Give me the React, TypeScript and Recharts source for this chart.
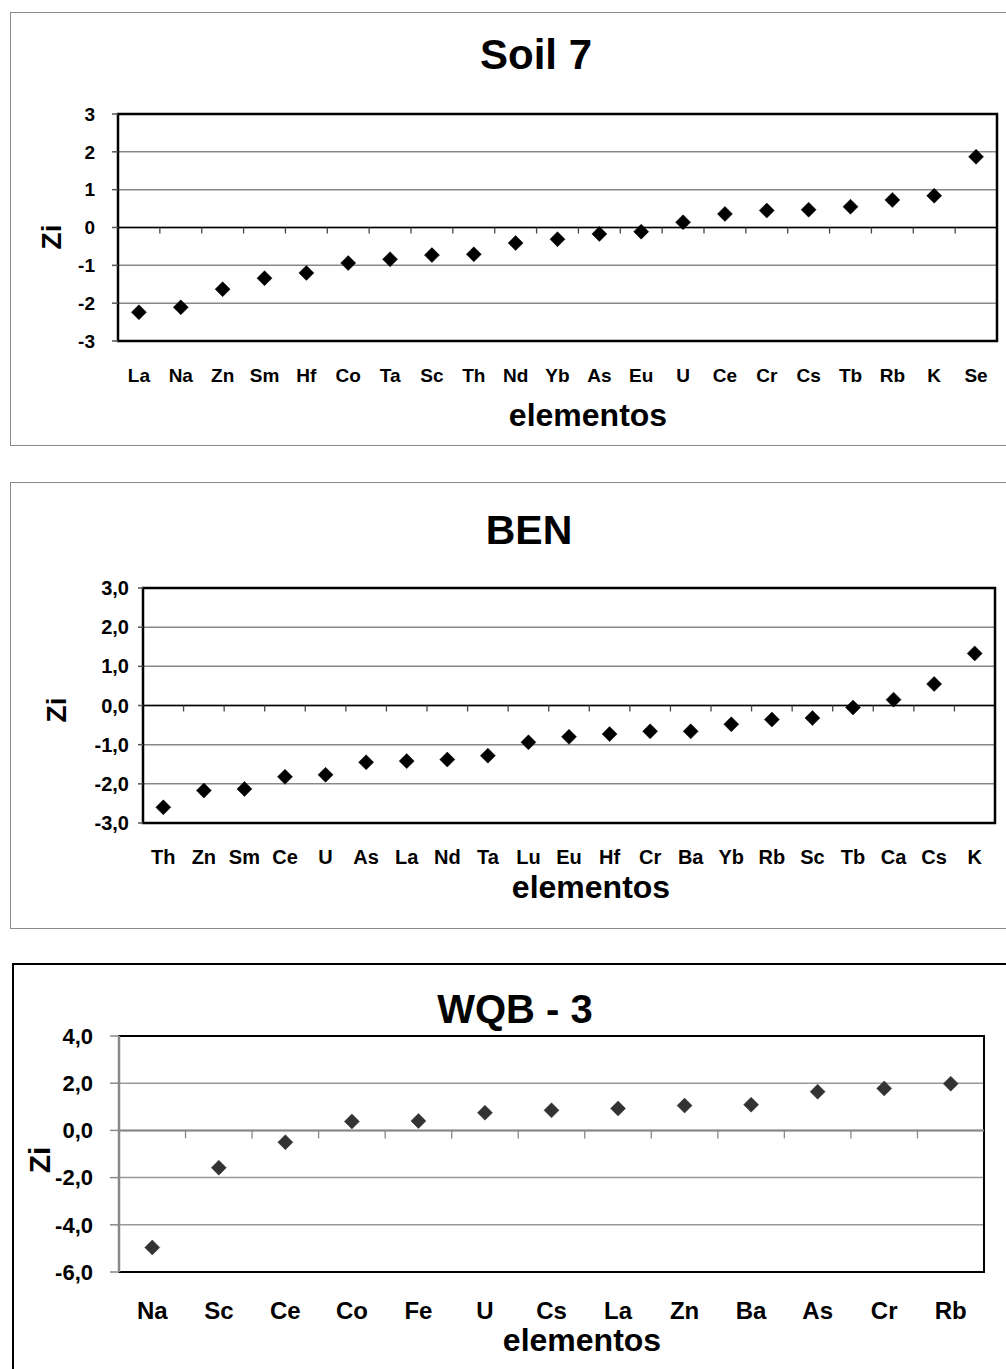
import React from 'react';
import {
  ScatterChart,
  Scatter,
  XAxis,
  YAxis,
  CartesianGrid,
  ReferenceLine,
  ReferenceArea,
} from 'recharts';

const FONT = '"Liberation Sans", Arial, Helvetica, sans-serif';

// ---- Soil 7 ----
const soil7Elements = ['La', 'Na', 'Zn', 'Sm', 'Hf', 'Co', 'Ta', 'Sc', 'Th', 'Nd', 'Yb', 'As', 'Eu', 'U', 'Ce', 'Cr', 'Cs', 'Tb', 'Rb', 'K', 'Se'];
const soil7Zi = [-2.24, -2.11, -1.63, -1.34, -1.2, -0.94, -0.84, -0.73, -0.71, -0.41, -0.31, -0.17, -0.11, 0.14, 0.36, 0.45, 0.47, 0.55, 0.73, 0.84, 1.87];
const soil7YTicks = [-3, -2, -1, 0, 1, 2, 3];

// ---- BEN ----
const benElements = ['Th', 'Zn', 'Sm', 'Ce', 'U', 'As', 'La', 'Nd', 'Ta', 'Lu', 'Eu', 'Hf', 'Cr', 'Ba', 'Yb', 'Rb', 'Sc', 'Tb', 'Ca', 'Cs', 'K'];
const benZi = [-2.6, -2.17, -2.13, -1.82, -1.77, -1.45, -1.42, -1.38, -1.28, -0.94, -0.8, -0.73, -0.66, -0.66, -0.48, -0.36, -0.32, -0.05, 0.15, 0.55, 1.33];
const benYTicks = [-3, -2, -1, 0, 1, 2, 3];

// ---- WQB - 3 ----
const wqbElements = ['Na', 'Sc', 'Ce', 'Co', 'Fe', 'U', 'Cs', 'La', 'Zn', 'Ba', 'As', 'Cr', 'Rb'];
const wqbZi = [-4.96, -1.58, -0.5, 0.38, 0.4, 0.75, 0.85, 0.93, 1.05, 1.09, 1.64, 1.78, 1.98];
const wqbYTicks = [-6, -4, -2, 0, 2, 4];

const titles = ['Soil 7', 'BEN', 'WQB - 3'];
const xAxisTitle = 'elementos';
const yAxisTitle = 'Zi';

type PanelProps = {
  top: number;
  height: number;
  elements: string[];
  values: number[];
  yTicks: number[];
  decimals: boolean;
  title: string;
  box: { left: number; top: number; height: number; border: string };
  plot: { left: number; right: number; top: number; bottom: number };
  xTickMargin: number;
  yTickSize: number;
  yTickMargin: number;
  xFont: number;
  yFont: number;
  titlePos: { x: number; y: number; size: number };
  ziPos: { x: number; y: number; size: number };
  elemPos: { x: number; y: number; size: number };
  gridColor: string;
  zeroColor: string;
  zeroWidth: number;
  zeroTickColor: string;
  zeroTickLen: number;
  yTickColor: string;
  markerColor: string;
  borderWidth: number;
  leftAxisColor?: string;
};

const textStyle = (x: number, y: number, size: number, rotate = false): React.CSSProperties => ({
  position: 'absolute',
  left: x,
  top: y,
  transform: rotate ? 'translate(-50%, -50%) rotate(-90deg)' : 'translate(-50%, -50%)',
  fontFamily: FONT,
  fontWeight: 700,
  fontSize: size,
  lineHeight: 1,
  whiteSpace: 'nowrap',
  color: '#000',
});

function Panel(p: PanelProps) {
  const n = p.elements.length;
  const data = p.elements.map((el, i) => ({ idx: i + 1, el, zi: p.values[i] }));
  const idxTicks = p.elements.map((_, i) => i + 1);
  const yMin = p.yTicks[0];
  const yMax = p.yTicks[p.yTicks.length - 1];
  const fmt = (v: number) => (p.decimals ? v.toFixed(1).replace('.', ',') : String(v));
  const W = 1006;
  const xAxisHeight = 40;

  const zeroShape = (props: any) => {
    const { x1, y1, x2, y2 } = props;
    const lo = Math.min(x1, x2);
    const hi = Math.max(x1, x2);
    const marks = [];
    for (let k = 1; k < n; k++) {
      const x = lo + ((hi - lo) * k) / n;
      marks.push(
        <line key={k} x1={x} x2={x} y1={y1} y2={y1 + p.zeroTickLen} stroke={p.zeroTickColor} strokeWidth={1.3} />
      );
    }
    return (
      <g>
        <line x1={x1} y1={y1} x2={x2} y2={y2} stroke={p.zeroColor} strokeWidth={p.zeroWidth} />
        {marks}
      </g>
    );
  };

  const diamond = (props: any) => {
    const { cx, cy } = props;
    const h = 7.5;
    return (
      <polygon
        points={`${cx},${cy - h} ${cx + h},${cy} ${cx},${cy + h} ${cx - h},${cy}`}
        fill={p.markerColor}
        stroke={p.markerColor}
        strokeWidth={0.5}
      />
    );
  };

  return (
    <div style={{ position: 'absolute', left: 0, top: p.top, width: W, height: p.height }}>
      <div
        style={{
          position: 'absolute',
          left: p.box.left,
          top: p.box.top,
          width: 1020,
          height: p.box.height,
          border: p.box.border,
          boxSizing: 'border-box',
          background: '#fff',
        }}
      />
      <div style={{ position: 'absolute', left: 0, top: 0 }}>
        <ScatterChart
          width={W}
          height={p.height}
          margin={{
            top: p.plot.top,
            right: W - p.plot.right,
            bottom: p.height - p.plot.bottom - xAxisHeight,
            left: 0,
          }}
        >
          <CartesianGrid vertical={false} horizontal stroke={p.gridColor} strokeWidth={1.5} />
          <XAxis
            type="number"
            dataKey="idx"
            domain={[0.5, n + 0.5]}
            ticks={idxTicks}
            interval={0}
            tickFormatter={(v: number) => p.elements[v - 1]}
            axisLine={false}
            tickLine={false}
            tickSize={0}
            tickMargin={p.xTickMargin}
            height={xAxisHeight}
            allowDataOverflow
            tick={{ fill: '#000', fontSize: p.xFont, fontWeight: 700, fontFamily: FONT }}
          />
          <YAxis
            type="number"
            dataKey="zi"
            domain={[yMin, yMax]}
            ticks={p.yTicks}
            interval={0}
            tickFormatter={fmt}
            width={p.plot.left}
            axisLine={false}
            tickLine={{ stroke: p.yTickColor, strokeWidth: 1.5 }}
            tickSize={p.yTickSize}
            tickMargin={p.yTickMargin}
            allowDataOverflow
            tick={{ fill: '#000', fontSize: p.yFont, fontWeight: 700, fontFamily: FONT }}
          />
          <ReferenceArea
            x1={0.5}
            x2={n + 0.5}
            y1={yMin}
            y2={yMax}
            fill="none"
            fillOpacity={0}
            stroke="#000"
            strokeWidth={p.borderWidth}
            ifOverflow="visible"
          />
          {p.leftAxisColor ? (
            <ReferenceLine x={0.5} stroke={p.leftAxisColor} strokeWidth={2.5} ifOverflow="visible" />
          ) : null}
          <ReferenceLine y={0} shape={zeroShape} ifOverflow="visible" />
          <Scatter data={data} dataKey="zi" fill={p.markerColor} shape={diamond} isAnimationActive={false} />
        </ScatterChart>
      </div>
      <div style={textStyle(p.titlePos.x, p.titlePos.y, p.titlePos.size)}>{p.title}</div>
      <div style={textStyle(p.ziPos.x, p.ziPos.y, p.ziPos.size, true)}>{yAxisTitle}</div>
      <div style={textStyle(p.elemPos.x, p.elemPos.y, p.elemPos.size)}>{xAxisTitle}</div>
    </div>
  );
}

export default function App() {
  return (
    <div
      style={{
        position: 'absolute',
        left: 0,
        top: 0,
        width: 1006,
        height: 1369,
        overflow: 'hidden',
        background: '#fff',
      }}
    >
      <Panel
        top={0}
        height={460}
        elements={soil7Elements}
        values={soil7Zi}
        yTicks={soil7YTicks}
        decimals={false}
        title={titles[0]}
        box={{ left: 10, top: 12, height: 434, border: '1px solid #8a8a8a' }}
        plot={{ left: 118, right: 997, top: 114, bottom: 341 }}
        xTickMargin={28}
        yTickSize={6}
        yTickMargin={17}
        xFont={19}
        yFont={19}
        titlePos={{ x: 536, y: 55, size: 42 }}
        ziPos={{ x: 52, y: 237, size: 28 }}
        elemPos={{ x: 588, y: 415, size: 32 }}
        gridColor="#888"
        zeroColor="#000"
        zeroWidth={1.3}
        zeroTickColor="#444"
        zeroTickLen={6}
        yTickColor="#555"
        markerColor="#000"
        borderWidth={2.5}
      />
      <Panel
        top={470}
        height={470}
        elements={benElements}
        values={benZi}
        yTicks={benYTicks}
        decimals={true}
        title={titles[1]}
        box={{ left: 10, top: 12, height: 447, border: '1px solid #8a8a8a' }}
        plot={{ left: 143, right: 995, top: 118, bottom: 353 }}
        xTickMargin={27}
        yTickSize={5}
        yTickMargin={9}
        xFont={20}
        yFont={20}
        titlePos={{ x: 529, y: 60, size: 41 }}
        ziPos={{ x: 57, y: 240, size: 28 }}
        elemPos={{ x: 591, y: 417, size: 32 }}
        gridColor="#888"
        zeroColor="#000"
        zeroWidth={1.3}
        zeroTickColor="#444"
        zeroTickLen={6}
        yTickColor="#555"
        markerColor="#000"
        borderWidth={2.5}
      />
      <Panel
        top={950}
        height={419}
        elements={wqbElements}
        values={wqbZi}
        yTicks={wqbYTicks}
        decimals={true}
        title={titles[2]}
        box={{ left: 12, top: 13, height: 440, border: '2px solid #000' }}
        plot={{ left: 119, right: 984, top: 86, bottom: 322 }}
        xTickMargin={30}
        yTickSize={9}
        yTickMargin={17}
        xFont={24}
        yFont={22}
        titlePos={{ x: 515, y: 59, size: 40 }}
        ziPos={{ x: 40, y: 210, size: 30 }}
        elemPos={{ x: 582, y: 390, size: 32 }}
        gridColor="#999"
        zeroColor="#888"
        zeroWidth={2}
        zeroTickColor="#888"
        zeroTickLen={8}
        yTickColor="#888"
        markerColor="#333"
        borderWidth={2}
        leftAxisColor="#888"
      />
    </div>
  );
}
